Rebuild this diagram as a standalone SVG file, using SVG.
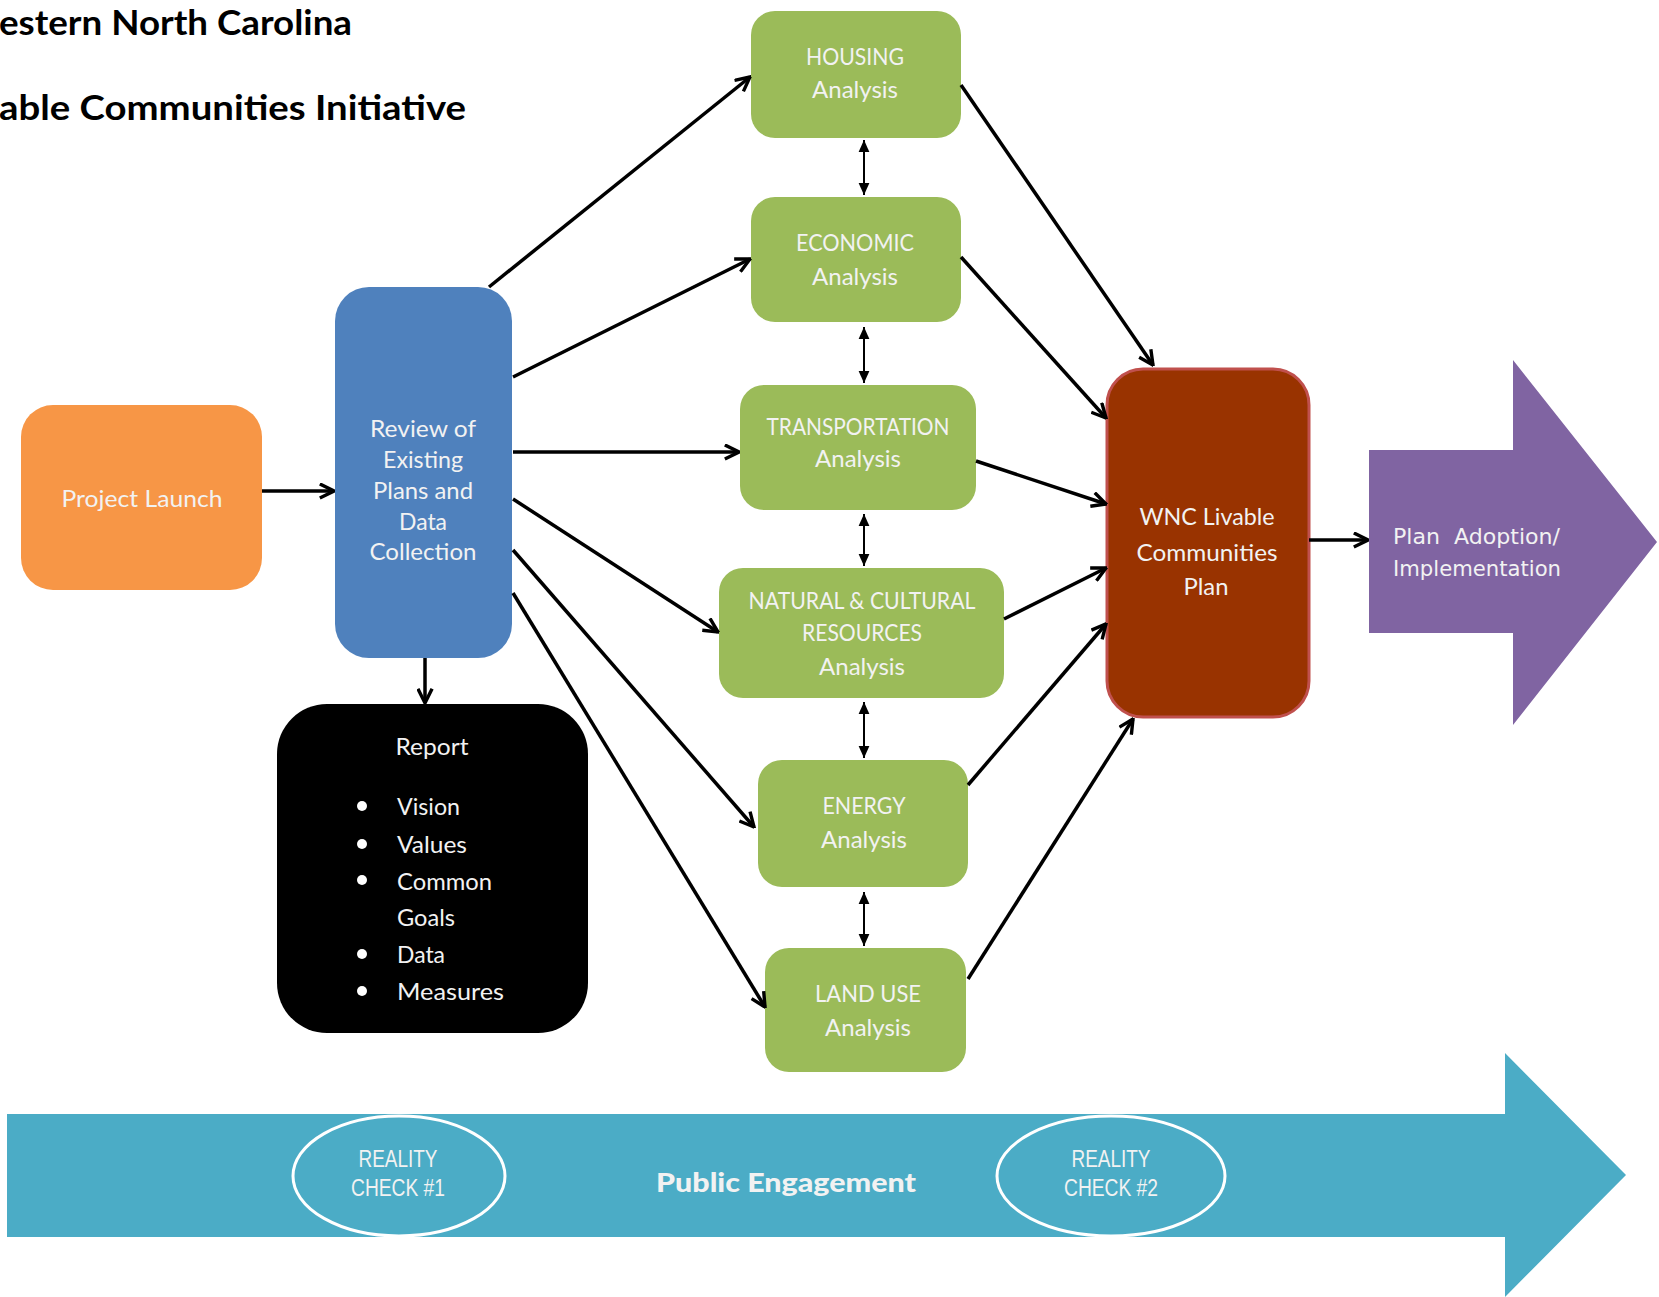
<svg xmlns="http://www.w3.org/2000/svg" width="1659" height="1297" viewBox="0 0 1659 1297">
<defs>
<style>
.t{font-family:Lato,"Open Sans","Liberation Sans",sans-serif;fill:#F2F2F2;font-size:24px;text-anchor:middle}
.tl{text-anchor:start}
.title{font-family:Lato,"Open Sans","Liberation Sans",sans-serif;font-weight:bold;font-size:35px;fill:#000}
.rc{font-family:"Liberation Sans",Arial,sans-serif;fill:#F2F2F2;font-size:23px;text-anchor:middle}
.pa{font-family:"DejaVu Sans",Verdana,sans-serif;fill:#F2F2F2;font-size:21px}
.green{fill:#9BBB59}
.conn{stroke:#000;stroke-width:3.5;fill:none;marker-end:url(#open)}
.dbl{stroke:#000;stroke-width:2;fill:none;marker-start:url(#tri);marker-end:url(#tri)}
</style>
<marker id="open" viewBox="0 0 12 12" refX="11" refY="6" markerWidth="17" markerHeight="17" markerUnits="userSpaceOnUse" orient="auto">
<path d="M1,1 L11,6 L1,11" fill="none" stroke="#000" stroke-width="2.4"/>
</marker>
<marker id="tri" viewBox="0 0 10 10" refX="10" refY="5" markerWidth="12" markerHeight="12" markerUnits="userSpaceOnUse" orient="auto-start-reverse">
<path d="M0,0.5 L10,5 L0,9.5 Z" fill="#000"/>
</marker>
</defs>
<rect width="1659" height="1297" fill="#fff"/>

<g id="title">
<text class="title" x="-1" y="35" textLength="353" lengthAdjust="spacingAndGlyphs">estern North Carolina</text>
<text class="title" x="-1" y="120" textLength="467" lengthAdjust="spacingAndGlyphs">able Communities Initiative</text>
</g>

<g id="public-engagement">
<path d="M7,1114 L1505,1114 L1505,1053 L1626,1175 L1505,1297 L1505,1237 L7,1237 Z" fill="#4BACC6"/>
<text x="786" y="1192" font-family="Lato,'Open Sans',sans-serif" font-weight="900" font-size="27" fill="#F2F2F2" text-anchor="middle" textLength="260" lengthAdjust="spacingAndGlyphs">Public Engagement</text>
</g>
<g id="reality-check-1">
<ellipse cx="399" cy="1176" rx="106" ry="60" fill="#4BACC6" stroke="#fff" stroke-width="3"/>
<text class="rc" x="398" y="1167" textLength="79" lengthAdjust="spacingAndGlyphs">REALITY</text>
<text class="rc" x="398" y="1196" textLength="94" lengthAdjust="spacingAndGlyphs">CHECK #1</text>
</g>
<g id="reality-check-2">
<ellipse cx="1111" cy="1176" rx="114" ry="60" fill="#4BACC6" stroke="#fff" stroke-width="3"/>
<text class="rc" x="1111" y="1167" textLength="79" lengthAdjust="spacingAndGlyphs">REALITY</text>
<text class="rc" x="1111" y="1196" textLength="94" lengthAdjust="spacingAndGlyphs">CHECK #2</text>
</g>

<g id="project-launch">
<rect x="21" y="405" width="241" height="185" rx="32" fill="#F79646"/>
<text class="t" x="142" y="507" textLength="161" lengthAdjust="spacingAndGlyphs">Project Launch</text>
</g>

<g id="review">
<rect x="335" y="287" width="177" height="371" rx="34" fill="#4F81BD"/>
<text class="t" x="423" y="437" textLength="106" lengthAdjust="spacingAndGlyphs">Review of</text>
<text class="t" x="423" y="468" textLength="80" lengthAdjust="spacingAndGlyphs">Existing</text>
<text class="t" x="423" y="499" textLength="100" lengthAdjust="spacingAndGlyphs">Plans and</text>
<text class="t" x="423" y="530" textLength="48" lengthAdjust="spacingAndGlyphs">Data</text>
<text class="t" x="423" y="560" textLength="107" lengthAdjust="spacingAndGlyphs">Collection</text>
</g>

<g id="report">
<rect x="277" y="704" width="311" height="329" rx="50" fill="#000"/>
<text class="t" x="432" y="755" textLength="73" lengthAdjust="spacingAndGlyphs">Report</text>
<circle cx="362" cy="806" r="5" fill="#fff"/>
<circle cx="362" cy="844" r="5" fill="#fff"/>
<circle cx="362" cy="880" r="5" fill="#fff"/>
<circle cx="362" cy="954" r="5" fill="#fff"/>
<circle cx="362" cy="991" r="5" fill="#fff"/>
<text class="t tl" x="397" y="815" textLength="63" lengthAdjust="spacingAndGlyphs">Vision</text>
<text class="t tl" x="397" y="853" textLength="70" lengthAdjust="spacingAndGlyphs">Values</text>
<text class="t tl" x="397" y="890" textLength="95" lengthAdjust="spacingAndGlyphs">Common</text>
<text class="t tl" x="397" y="926" textLength="58" lengthAdjust="spacingAndGlyphs">Goals</text>
<text class="t tl" x="397" y="963" textLength="48" lengthAdjust="spacingAndGlyphs">Data</text>
<text class="t tl" x="397" y="1000" textLength="107" lengthAdjust="spacingAndGlyphs">Measures</text>
</g>

<g id="housing">
<rect class="green" x="751" y="11" width="210" height="127" rx="24"/>
<text class="t" x="855" y="65" textLength="98" lengthAdjust="spacingAndGlyphs">HOUSING</text>
<text class="t" x="855" y="98" textLength="86" lengthAdjust="spacingAndGlyphs">Analysis</text>
</g>
<g id="economic">
<rect class="green" x="751" y="197" width="210" height="125" rx="24"/>
<text class="t" x="855" y="251" textLength="118" lengthAdjust="spacingAndGlyphs">ECONOMIC</text>
<text class="t" x="855" y="285" textLength="86" lengthAdjust="spacingAndGlyphs">Analysis</text>
</g>
<g id="transportation">
<rect class="green" x="740" y="385" width="236" height="125" rx="24"/>
<text class="t" x="858" y="435" textLength="183" lengthAdjust="spacingAndGlyphs">TRANSPORTATION</text>
<text class="t" x="858" y="467" textLength="86" lengthAdjust="spacingAndGlyphs">Analysis</text>
</g>
<g id="natural">
<rect class="green" x="719" y="568" width="285" height="130" rx="24"/>
<text class="t" x="862" y="609" textLength="227" lengthAdjust="spacingAndGlyphs">NATURAL &amp; CULTURAL</text>
<text class="t" x="862" y="641" textLength="120" lengthAdjust="spacingAndGlyphs">RESOURCES</text>
<text class="t" x="862" y="675" textLength="86" lengthAdjust="spacingAndGlyphs">Analysis</text>
</g>
<g id="energy">
<rect class="green" x="758" y="760" width="210" height="127" rx="24"/>
<text class="t" x="864" y="814" textLength="83" lengthAdjust="spacingAndGlyphs">ENERGY</text>
<text class="t" x="864" y="848" textLength="86" lengthAdjust="spacingAndGlyphs">Analysis</text>
</g>
<g id="land-use">
<rect class="green" x="765" y="948" width="201" height="124" rx="24"/>
<text class="t" x="868" y="1002" textLength="106" lengthAdjust="spacingAndGlyphs">LAND USE</text>
<text class="t" x="868" y="1036" textLength="86" lengthAdjust="spacingAndGlyphs">Analysis</text>
</g>

<g id="wnc-plan">
<rect x="1107" y="369" width="202" height="348" rx="36" fill="#993300" stroke="#C0504D" stroke-width="3"/>
<text class="t" x="1207" y="525" textLength="135" lengthAdjust="spacingAndGlyphs">WNC Livable</text>
<text class="t" x="1207" y="561" textLength="141" lengthAdjust="spacingAndGlyphs">Communities</text>
<text class="t" x="1206" y="595" textLength="45" lengthAdjust="spacingAndGlyphs">Plan</text>
</g>

<g id="plan-adoption">
<path d="M1369,450 L1513,450 L1513,360 L1657,542 L1513,725 L1513,633 L1369,633 Z" fill="#8064A2"/>
<text class="pa" x="1393" y="544" textLength="167" lengthAdjust="spacingAndGlyphs" xml:space="preserve">Plan  Adoption/</text>
<text class="pa" x="1393" y="576" textLength="168" lengthAdjust="spacingAndGlyphs">Implementation</text>
</g>

<g id="connectors">
<line class="conn" x1="262" y1="491" x2="334" y2="491"/>
<line class="conn" x1="489" y1="287" x2="750" y2="77"/>
<line class="conn" x1="513" y1="377" x2="750" y2="259"/>
<line class="conn" x1="513" y1="452" x2="739" y2="452"/>
<line class="conn" x1="513" y1="499" x2="718" y2="632"/>
<line class="conn" x1="513" y1="550" x2="754" y2="827"/>
<line class="conn" x1="513" y1="593" x2="765" y2="1007"/>
<line class="conn" x1="425" y1="658" x2="425" y2="703"/>
<line class="conn" x1="961" y1="85" x2="1153" y2="365"/>
<line class="conn" x1="961" y1="257" x2="1106" y2="418"/>
<line class="conn" x1="976" y1="461" x2="1106" y2="504"/>
<line class="conn" x1="1004" y1="619" x2="1106" y2="568"/>
<line class="conn" x1="968" y1="785" x2="1106" y2="624"/>
<line class="conn" x1="968" y1="979" x2="1133" y2="719"/>
<line class="conn" x1="1309" y1="540" x2="1368" y2="540"/>
<line class="dbl" x1="864" y1="140" x2="864" y2="195"/>
<line class="dbl" x1="864" y1="327" x2="864" y2="383"/>
<line class="dbl" x1="864" y1="514" x2="864" y2="566"/>
<line class="dbl" x1="864" y1="702" x2="864" y2="758"/>
<line class="dbl" x1="864" y1="892" x2="864" y2="946"/>
</g>
</svg>
